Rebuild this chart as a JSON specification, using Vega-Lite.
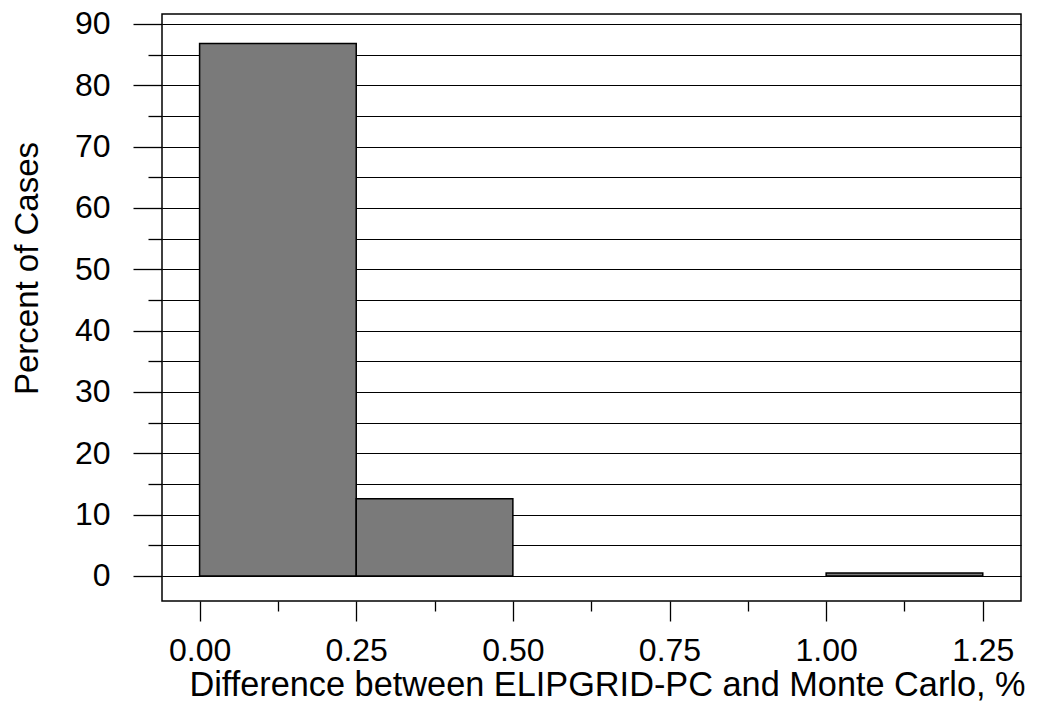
{
  "$schema": "https://vega.github.io/schema/vega-lite/v6.json",
  "autosize": "none",
  "width": 859,
  "height": 587,
  "padding": {"left": 162, "top": 14, "right": 18, "bottom": 117},
  "background": "white",
  "config": {
    "view": {"stroke": "black", "strokeWidth": 1.5},
    "font": "Liberation Sans",
    "axis": {
      "domain": false,
      "labelFont": "Liberation Sans",
      "titleFont": "Liberation Sans",
      "labelFontSize": 32,
      "titleFontSize": 33,
      "titleFontWeight": "normal",
      "labelColor": "black",
      "titleColor": "black",
      "tickColor": "black",
      "tickWidth": 1.3
    }
  },
  "data": {
    "values": [
      {"lo": 0.0, "hi": 0.25, "pct": 86.8},
      {"lo": 0.25, "hi": 0.5, "pct": 12.6},
      {"lo": 1.0, "hi": 1.25, "pct": 0.5}
    ]
  },
  "mark": {"type": "rect", "fill": "#7a7a7a", "stroke": "black", "strokeWidth": 1.5},
  "encoding": {
    "x": {
      "field": "lo",
      "type": "quantitative",
      "scale": {"domain": [-0.06, 1.311], "nice": false, "zero": false},
      "axis": {
        "values": [0, 0.125, 0.25, 0.375, 0.5, 0.625, 0.75, 0.875, 1.0, 1.125, 1.25],
        "labelExpr": "(datum.value * 1000) % 250 === 0 ? format(datum.value, '.2f') : ''",
        "tickSize": {"condition": {"test": "(datum.value * 1000) % 250 === 0", "value": 20}, "value": 10},
        "labelBaseline": "alphabetic",
        "labelPadding": 39,
        "grid": false,
        "title": "Difference between ELIPGRID-PC and Monte Carlo, %",
        "titleFontSize": 34.3,
        "titleX": 445,
        "titleY": 94,
        "titleAlign": "center",
        "titleBaseline": "alphabetic"
      }
    },
    "x2": {"field": "hi"},
    "y": {
      "field": "pct",
      "type": "quantitative",
      "scale": {"domain": [-4.08, 91.63], "nice": false, "zero": false},
      "axis": {
        "values": [0, 5, 10, 15, 20, 25, 30, 35, 40, 45, 50, 55, 60, 65, 70, 75, 80, 85, 90],
        "labelExpr": "datum.value % 10 === 0 ? datum.value : ''",
        "tickSize": {"condition": {"test": "datum.value % 10 === 0", "value": 29}, "value": 14},
        "labelPadding": 23,
        "grid": true,
        "gridColor": "black",
        "gridWidth": 1.2,
        "gridOpacity": 1,
        "title": "Percent of Cases",
        "titleAngle": 270,
        "titleX": -135,
        "titleY": 254,
        "titleAlign": "center",
        "titleBaseline": "middle"
      }
    },
    "y2": {"datum": 0}
  }
}
